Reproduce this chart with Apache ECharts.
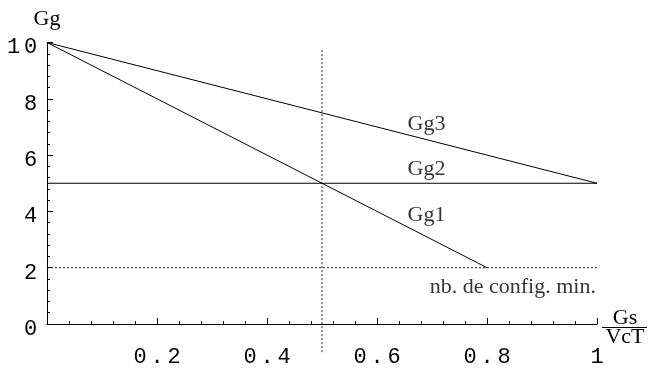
<!DOCTYPE html>
<html>
<head>
<meta charset="utf-8">
<script src="https://cdn.jsdelivr.net/npm/echarts@6/dist/echarts.min.js"></script>
<style>
  html, body { margin: 0; padding: 0; background: #fff; }
  #chart { width: 648px; height: 368px; }
</style>
</head>
<body>
<div id="chart"></div>
<script>
// line data (Gs/VcT -> Gg)
const gg1X = [0, 0.8]
const gg1Y = [10, 2]
const gg2X = [0, 1]
const gg2Y = [5, 5]
const gg3X = [0, 1]
const gg3Y = [10, 5]
const minX = [0, 1]
const minY = [2, 2]
const midX = [0.5, 0.5]
const midY = [-1, 9.8]

// text annotations, anchored in data units
const noteText = ['Gg3', 'Gg2', 'Gg1', 'nb. de config. min.']
const noteX = [0.69, 0.69, 0.69, 0.998]
const noteY = [7.1, 5.5, 3.85, 1.3]
const noteAlign = ['center', 'center', 'center', 'right']

const zip = (xs, ys) => xs.map((x, i) => [x, ys[i]])

const chart = echarts.init(document.getElementById('chart'))

const serif = 'Liberation Serif'
const mono = 'Liberation Mono'

const solid = { color: '#000', width: 1 }
const dotted = { color: '#222', width: 1, type: [2, 2] }

// spread each character on a fixed pitch, like the old plot fonts
const spaced = s => String(s).split('').map(c => '{d|' + c + '}').join('')
const digitRich = { d: { width: 17, align: 'center', fontFamily: mono, fontSize: 22, color: '#000' } }

const axisCommon = {
  type: 'value',
  splitLine: { show: false },
  axisLine: { lineStyle: { color: '#000', width: 1 } },
  axisTick: { inside: true, length: 6, lineStyle: { color: '#000' } },
  minorTick: { show: true, splitNumber: 5, length: 3, lineStyle: { color: '#000' } },
  minorSplitLine: { show: false }
}

chart.setOption({
  animation: false,
  grid: { left: 47, right: 51, top: 42.5, bottom: 41.5 },
  xAxis: Object.assign({}, axisCommon, {
    min: 0,
    max: 1,
    interval: 0.2,
    axisLabel: {
      margin: 22,
      rich: digitRich,
      formatter: v => v === 0 ? '' : spaced(v === 1 ? '1' : v.toFixed(1))
    }
  }),
  yAxis: Object.assign({}, axisCommon, {
    min: 0,
    max: 10,
    interval: 2,
    name: 'Gg',
    nameLocation: 'end',
    nameGap: 12,
    nameTextStyle: { color: '#000', fontFamily: serif, fontSize: 22, align: 'center' },
    axisLabel: {
      margin: 8,
      padding: [10, 0, 0, 0],
      rich: digitRich,
      formatter: v => spaced(v)
    }
  }),
  graphic: [
    { type: 'text', x: 625, y: 318, style: { text: 'Gs', font: '22px "Liberation Serif"', fill: '#000', align: 'center', verticalAlign: 'middle' } },
    { type: 'line', shape: { x1: 602, y1: 327.5, x2: 647, y2: 327.5 }, style: { stroke: '#000', lineWidth: 1 } },
    { type: 'text', x: 625, y: 337, style: { text: 'VcT', font: '22px "Liberation Serif"', fill: '#000', align: 'center', verticalAlign: 'middle' } }
  ],
  series: [
    { type: 'line', name: 'Gg1', data: zip(gg1X, gg1Y), symbol: 'none', lineStyle: solid },
    { type: 'line', name: 'Gg2', data: zip(gg2X, gg2Y), symbol: 'none', lineStyle: solid },
    { type: 'line', name: 'Gg3', data: zip(gg3X, gg3Y), symbol: 'none', lineStyle: solid },
    { type: 'line', name: 'min', data: zip(minX, minY), symbol: 'none', lineStyle: dotted },
    { type: 'line', name: 'mid', data: zip(midX, midY), symbol: 'none', lineStyle: dotted, clip: false },
    {
      type: 'scatter',
      symbolSize: 0,
      silent: true,
      data: noteText.map((t, i) => ({
        name: t,
        value: [noteX[i], noteY[i]],
        label: { align: noteAlign[i] }
      })),
      label: {
        show: true,
        position: 'inside',
        formatter: p => p.name,
        color: '#000',
        fontFamily: serif,
        fontSize: 22,
        verticalAlign: 'middle'
      }
    }
  ]
})
</script>
</body>
</html>
